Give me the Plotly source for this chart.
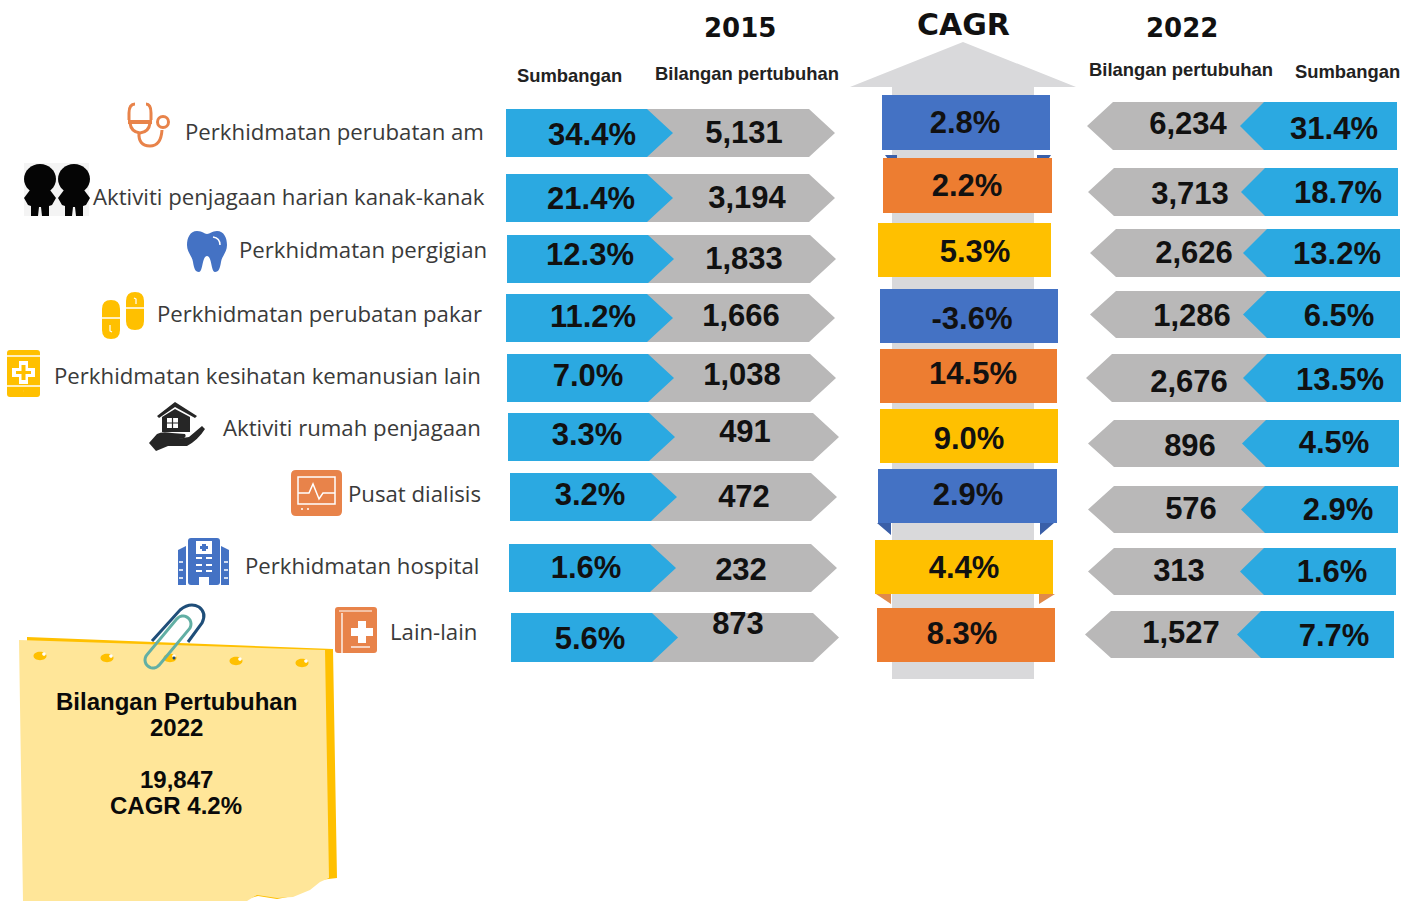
import numpy as np
import plotly.graph_objects as go

# ---------- data ----------
categories = ["Perkhidmatan perubatan am", "Aktiviti penjagaan harian kanak-kanak", "Perkhidmatan pergigian",
              "Perkhidmatan perubatan pakar", "Perkhidmatan kesihatan kemanusian lain", "Aktiviti rumah penjagaan",
              "Pusat dialisis", "Perkhidmatan hospital", "Lain-lain"]
share_2015 = [34.4, 21.4, 12.3, 11.2, 7.0, 3.3, 3.2, 1.6, 5.6]
count_2015 = [5131, 3194, 1833, 1666, 1038, 491, 472, 232, 873]
cagr = [2.8, 2.2, 5.3, -3.6, 14.5, 9.0, 2.9, 4.4, 8.3]
count_2022 = [6234, 3713, 2626, 1286, 2676, 896, 576, 313, 1527]
share_2022 = [31.4, 18.7, 13.2, 6.5, 13.5, 4.5, 2.9, 1.6, 7.7]
note_lines = ["Bilangan Pertubuhan", "2022", "19,847", "CAGR 4.2%"]

# ---------- page layout (pixel canvas) ----------
L_X0 = [506, 506, 507, 506, 507, 508, 510, 509, 511]
L_TIP = [835, 835, 836, 835, 836, 839, 837, 837, 839]
L_Y = [(109, 157), (174, 222), (235, 283), (294, 342), (354, 402), (413, 461), (473, 521), (544, 592), (613, 662)]
R_TIP = [1087, 1088, 1090, 1090, 1086, 1088, 1088, 1088, 1085]
R_BLUE = [1240, 1241, 1243, 1243, 1243, 1242, 1241, 1240, 1237]
R_X1 = [1397, 1398, 1400, 1400, 1401, 1399, 1398, 1396, 1394]
R_Y = [(102, 150), (168, 216), (229, 277), (291, 338), (354, 402), (420, 467), (486, 533), (548, 595), (611, 658)]
C_BOX = [(882, 1050, 95, 150), (883, 1052, 158, 213), (878, 1051, 223, 277), (880, 1058, 289, 343), (880, 1057, 349, 403),
         (880, 1058, 409, 463), (878, 1057, 469, 523), (875, 1053, 540, 594), (877, 1055, 608, 662)]
BLUE, ORANGE, GOLD = "#4472C4", "#ED7D31", "#FFC000"
C_COL = [BLUE, ORANGE, GOLD, BLUE, ORANGE, GOLD, BLUE, GOLD, ORANGE]
SKY, GREY = "#2BA9E1", "#B9B8B8"

POS_SL = [(592, 135), (591, 199), (590, 255), (593, 317), (588, 376), (587, 435), (590, 495), (586, 568), (590, 639)]
POS_CL = [(744, 133), (747, 198), (744, 259), (741, 316), (742, 375), (745, 432), (744, 497), (741, 570), (738, 624)]
POS_CG = [(965, 123), (967, 186), (975, 252), (972, 319), (973, 374), (969, 439), (968, 495), (964, 568), (962, 634)]
POS_CR = [(1188, 124), (1190, 194), (1194, 253), (1192, 316), (1189, 382), (1190, 446), (1191, 509), (1179, 571), (1181, 633)]
POS_SR = [(1334, 129), (1338, 193), (1337, 254), (1339, 316), (1340, 380), (1334, 443), (1338, 510), (1332, 572), (1334, 636)]
LABEL_X = [484, 485, 487, 482, 481, 481, 481, 479, 477]
LABEL_Y = [132, 197, 250, 314, 376, 428, 494, 566, 632]
TEXT_DY = 2.5

VALUE_FONT = dict(family="Liberation Sans", size=31, color="#111111", weight=700)

fig = go.Figure()


def polys(items, color, name):
    xs, ys = [], []
    for pts in items:
        xs += [p[0] for p in pts] + [pts[0][0], None]
        ys += [p[1] for p in pts] + [pts[0][1], None]
    fig.add_trace(go.Scatter(x=xs, y=ys, mode="none", fill="toself", fillcolor=color, name=name,
                             hoverinfo="skip", showlegend=False))


def texts(pos, labels, name, font=VALUE_FONT):
    fig.add_trace(go.Scatter(x=[p[0] for p in pos], y=[p[1] + TEXT_DY for p in pos], mode="text", text=labels,
                             textposition="middle center", textfont=font, name=name, cliponaxis=False,
                             showlegend=False, hoverinfo="text"))


# CAGR grey arrow behind the boxes
polys([[(963, 42), (1076, 87), (1034, 87), (1034, 679), (892, 679), (892, 87), (850, 87)]], "#D9D9DB", "arrow")

# Ribbon tabs under the CAGR boxes
tabs_blue = [[(885, 155), (897, 155), (897, 158), (888, 159)], [(1037, 155), (1051, 155), (1049, 158), (1037, 159)],
             [(877, 523), (891, 523), (891, 535)], [(1054, 523), (1040, 523), (1040, 535)]]
tabs_orange = [[(876, 594), (891, 594), (891, 604)], [(1055, 594), (1039, 594), (1039, 604)]]
polys(tabs_blue, "#3A5FA8", "tabs")
polys(tabs_orange, "#E08A4A", "tabs2")

# CAGR boxes by colour
for col in (BLUE, ORANGE, GOLD):
    polys([[(b[0], b[2]), (b[1], b[2]), (b[1], b[3]), (b[0], b[3])] for b, c in zip(C_BOX, C_COL) if c == col], col, "cagr")

# 2015 chevrons
polys([[(x0 + 100, y0), (t - 26, y0), (t, (y0 + y1) / 2), (t - 26, y1), (x0 + 100, y1)]
       for x0, t, (y0, y1) in zip(L_X0, L_TIP, L_Y)], GREY, "count 2015")
polys([[(x0, y0), (x0 + 141, y0), (x0 + 167, (y0 + y1) / 2), (x0 + 141, y1), (x0, y1)]
       for x0, (y0, y1) in zip(L_X0, L_Y)], SKY, "share 2015")
# 2022 chevrons
polys([[(t + 26, y0), (b + 40, y0), (b + 40, y1), (t + 26, y1), (t, (y0 + y1) / 2)]
       for t, b, (y0, y1) in zip(R_TIP, R_BLUE, R_Y)], GREY, "count 2022")
polys([[(b + 24, y0), (x1, y0), (x1, y1), (b + 24, y1), (b, (y0 + y1) / 2)]
       for b, x1, (y0, y1) in zip(R_BLUE, R_X1, R_Y)], SKY, "share 2022")

texts(POS_SL, [f"{v:.1f}%" for v in share_2015], "share 2015")
texts(POS_CL, [f"{v:,}" for v in count_2015], "count 2015")
texts(POS_CG, [f"{v:.1f}%" for v in cagr], "CAGR")
texts(POS_CR, [f"{v:,}" for v in count_2022], "count 2022")
texts(POS_SR, [f"{v:.1f}%" for v in share_2022], "share 2022")

# ---------- decoration shapes ----------
shapes = []


def path(d, fill=None, line=None, w=0):
    shapes.append(dict(type="path", path=d, xref="x", yref="y", layer="above",
                       fillcolor=fill if fill else "rgba(0,0,0,0)",
                       line=dict(color=line if line else "rgba(0,0,0,0)", width=w)))


def rrect(x0, y0, x1, y1, r):
    return (f"M{x0+r},{y0} L{x1-r},{y0} Q{x1},{y0} {x1},{y0+r} L{x1},{y1-r} Q{x1},{y1} {x1-r},{y1} "
            f"L{x0+r},{y1} Q{x0},{y1} {x0},{y1-r} L{x0},{y0+r} Q{x0},{y0} {x0+r},{y0} Z")


def ell(cx, cy, rx, ry=None):
    ry = ry if ry else rx
    k = 0.5523
    return (f"M{cx-rx},{cy} C{cx-rx},{cy-k*ry} {cx-k*rx},{cy-ry} {cx},{cy-ry} C{cx+k*rx},{cy-ry} {cx+rx},{cy-k*ry} {cx+rx},{cy} "
            f"C{cx+rx},{cy+k*ry} {cx+k*rx},{cy+ry} {cx},{cy+ry} C{cx-k*rx},{cy+ry} {cx-rx},{cy+k*ry} {cx-rx},{cy} Z")


def plist(pts, close=True):
    return "M" + " L".join(f"{x:.1f},{y:.1f}" for x, y in pts) + (" Z" if close else "")


def stadium(a, b, r, n=14):
    a, b = np.array(a, float), np.array(b, float)
    ang = np.arctan2(*(b - a)[::-1])
    t1 = np.linspace(ang - np.pi / 2, ang + np.pi / 2, n)
    t2 = t1 + np.pi
    pts = [tuple(b + r * np.array([np.cos(t), np.sin(t)])) for t in t1]
    pts += [tuple(a + r * np.array([np.cos(t), np.sin(t)])) for t in t2]
    return pts


# stethoscope
O2 = "#E8834A"
path("M135,104 Q129,104 129,113 L129,120", line=O2, w=3)
path("M146,104 Q151,104 151,113 L151,120", line=O2, w=3)
path("M128,122 L152,122", line=O2, w=4)
path("M130,123 Q131,132 140,133 Q149,132 150,123", line=O2, w=3)
path("M139,132 Q138,146 150,146 Q161,146 162,130", line=O2, w=3)
path(ell(163, 122, 5.5), fill="white", line=O2, w=3)
# children
path("M24,163 L89,163 L89,216 L24,216 Z", fill="#F4F4F4")
for cx in (40, 74):
    path(ell(cx, 179, 16, 15), fill="#050505")
    path(f"M{cx-10},190 L{cx+10},190 L{cx+16},198 L{cx+12},205 L{cx+9},206 L{cx+9},216 L{cx+2},216 L{cx+1},207 L{cx-1},207 "
         f"L{cx-2},216 L{cx-9},216 L{cx-9},206 L{cx-12},205 L{cx-16},198 Z", fill="#050505")
# tooth
path("M197,231 C203,231 204,234 207,234 C210,234 212,231 217,231 C224,231 227,238 227,245 C227,252 222,256 221,262 "
     "C220,268 219,272 215,272 C211,272 212,256 207,256 C202,256 203,272 199,272 C195,272 194,268 193,262 "
     "C192,256 187,252 187,245 C187,238 190,231 197,231 Z", fill=BLUE)
path("M213,237 Q220,238 220,245", line="white", w=1.5)
# pills
path(rrect(102, 300, 120, 339, 9), fill=GOLD)
path("M102,318 L120,318", line="white", w=1.5)
path("M110,325 L110,331 L112,332", line="white", w=1.2)
path(rrect(126, 292, 144, 330, 9), fill=GOLD)
path("M126,308 L144,308", line="white", w=1.5)
path("M134,298 L136,299 L136,304", line="white", w=1.2)
# medical box
path(rrect(7, 350, 40, 397, 3), fill=GOLD)
path("M7,356 L40,356", line="white", w=1.5)
path("M7,386 L40,386", line="white", w=1.5)
path("M23,391 L23.1,391", line="white", w=2)
path("M19,361 L28,361 L28,368 L35,368 L35,377 L28,377 L28,384 L19,384 L19,377 L12,377 L12,368 L19,368 Z", fill="white")
path("M21.5,365 L25.5,365 L25.5,371 L31,371 L31,374 L25.5,374 L25.5,380 L21.5,380 L21.5,374 L16,374 L16,371 L21.5,371 Z", fill=GOLD)
# house in hand
D = "#262626"
path("M175,402 L197,416 L195,418 L175,407 L159,418 L157,416 Z", fill=D)
path("M162,417 L175,409 L190,417 L190,432 L162,432 Z", fill=D)
path("M167,418 L178,418 L178,428 L167,428 Z", fill="white")
path("M172.5,418 L172.5,428 M167,423 L178,423", line=D, w=1.2)
path("M149,443 L157,434 Q162,431 172,433 L185,434 Q187,437 183,438 L176,439 L189,437 L202,426 L205,429 "
     "Q198,440 187,446 L168,446 L156,451 Z", fill=D)
# monitor
path(rrect(291, 470, 342, 516, 5), fill=O2)
path("M298,477 L335,477 L335,504 L298,504 Z", line="white", w=1.5)
path("M298,493 L309,493 L313,484 L319,499 L323,493 L335,493", line="white", w=1.5)
path("M301,509 L303,509 M307,509 L309,509", line="white", w=1.5)
# hospital
path("M178,550 L178,585 L186,585 L186,546 Z M229,550 L229,585 L221,585 L221,546 Z", fill=BLUE)
path(rrect(188, 538, 220, 585, 3), fill=BLUE)
path("M196,541 L212,541 L212,554 L196,554 Z", fill="white")
path("M202,544 L206,544 L206,546 L208,546 L208,549 L206,549 L206,551 L202,551 L202,549 L200,549 L200,546 L202,546 Z", fill=BLUE)
for yy in (558, 565, 571):
    path(f"M196,{yy} L202,{yy} M206,{yy} L212,{yy}", line="white", w=2.2)
path("M199,585 L199,577 L209,577 L209,585 Z", fill="white")
for yy in (562, 570, 578):
    path(f"M179,{yy} L183,{yy} M224,{yy} L228,{yy}", line="white", w=1.5)
# book
path(rrect(335, 607, 377, 653, 3), fill=O2)
path("M339,611 L372,611", line="white", w=1)
path("M342,613 L342,653", line="white", w=1.3)
path("M358,621 L366,621 L366,628 L373,628 L373,636 L366,636 L366,643 L358,643 L358,636 L351,636 L351,628 L358,628 Z", fill="white")
path("M351,647 L370,647", line="white", w=1.3)
# note
path("M27,637 L333,649 L337,878 L320,880 L310,888 L293,896 L277,899 L258,896 L240,901 L27,901 Z", fill=GOLD)
path("M19,640 L325,650 L329,878 L320,882 L310,890 L293,897 L277,898 L257,895 L247,901 L23,901 Z", fill="#FFE699")
for hx, hy in [(40, 656), (107, 658), (170, 658), (236, 661), (302, 663)]:
    path(ell(hx, hy, 6.5, 4.2), fill=GOLD)
    path(ell(hx + 4, hy - 2, 1.8), fill="white")
path("M152,641 L180,610 Q190,602 199,607 Q207,613 202,623 L188,642", line="#1F4E79", w=3)
path(plist(stadium((153, 660), (183, 624), 8)), line="#62AFA4", w=3)
path(ell(174, 658, 1.5), fill="#1F4E79")

# ---------- annotations ----------
annots = []


def note(x, y, text, size, family, color="#111111", weight=None, anchor="center"):
    annots.append(dict(x=x, y=y, xref="x", yref="y", text=text, showarrow=False, xanchor=anchor, yanchor="middle",
                       font=dict(family=family, size=size, color=color, weight=weight)))


for cat, lx, ly in zip(categories, LABEL_X, LABEL_Y):
    note(lx + 2, ly - 1, cat, 22.2, "Open Sans", "#3A3A3A", anchor="right")
note(740, 28, "2015", 26, "DejaVu Sans", weight=700)
note(963, 24, "CAGR", 30, "DejaVu Sans", weight=700)
note(1182, 28, "2022", 26, "DejaVu Sans", weight=700)
for x, y, t in [(569, 75, "Sumbangan"), (747, 73, "Bilangan pertubuhan"), (1181, 69, "Bilangan pertubuhan"), (1347, 71, "Sumbangan")]:
    note(x, y, t, 18.4, "Liberation Sans", "#222222", weight=700)
for y, t in zip([701, 727, 779, 805], note_lines):
    note(176, y, t, 24, "Liberation Sans", "#0A0A0A", weight=700)

fig.update_layout(width=1416, height=901, margin=dict(l=0, r=0, t=0, b=0), autosize=False,
                  paper_bgcolor="white", plot_bgcolor="white", showlegend=False,
                  shapes=shapes, annotations=annots,
                  xaxis=dict(range=[0, 1416], visible=False, fixedrange=True),
                  yaxis=dict(range=[901, 0], visible=False, fixedrange=True))
fig.write_html("out.html", post_script="document.body.style.margin='0';", config=dict(displayModeBar=False))
